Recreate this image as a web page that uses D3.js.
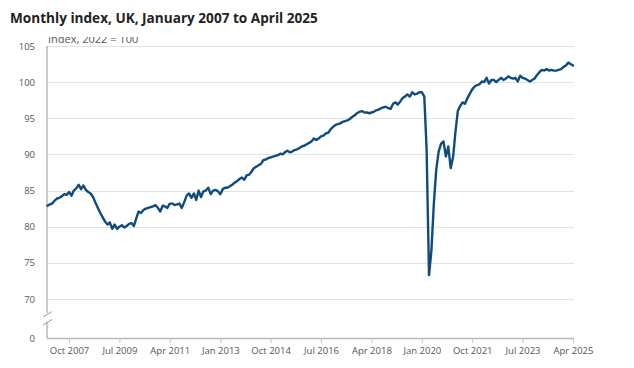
<!DOCTYPE html>
<html>
<head>
<meta charset="utf-8">
<script src="https://cdn.jsdelivr.net/npm/d3@7"></script>
<style>
  html, body { margin: 0; padding: 0; background: #fff; }
  svg text { font-family: "Open Sans", "Noto Sans", sans-serif; }
</style>
</head>
<body>
<svg id="chart" width="634" height="368"></svg>
<script>
// Monthly index, 2022 = 100, Jan 2007 .. Apr 2025
const startMonth = "2007-01";
const endMonth = "2025-04";
const indexValues = [
  82.9, 83.1, 83.2, 83.6, 83.9, 84.0, 84.2, 84.5, 84.4, 84.8, 84.3, 85.0,   // 2007
  85.3, 85.8, 85.2, 85.7, 85.1, 84.8, 84.6, 84.1, 83.3, 82.6, 81.9, 81.3,   // 2008
  80.7, 80.3, 80.6, 79.7, 80.3, 79.7, 80.0, 80.2, 79.9, 80.1, 80.4, 80.5,   // 2009
  80.1, 81.2, 82.1, 81.9, 82.3, 82.5, 82.6, 82.7, 82.8, 83.0, 82.6, 82.1,   // 2010
  82.9, 82.8, 82.6, 83.2, 83.2, 83.0, 83.1, 83.2, 82.6, 83.4, 84.3, 84.6,   // 2011
  84.0, 84.6, 83.7, 85.0, 84.1, 84.9, 85.0, 85.4, 84.5, 85.0, 85.1, 84.9,   // 2012
  84.5, 85.2, 85.4, 85.4, 85.6, 85.8, 86.1, 86.3, 86.6, 86.8, 86.5, 87.1,   // 2013
  87.2, 87.6, 88.1, 88.3, 88.5, 88.7, 89.2, 89.3, 89.5, 89.6, 89.7, 89.8,   // 2014
  89.9, 90.1, 90.0, 90.3, 90.5, 90.3, 90.4, 90.6, 90.7, 90.9, 91.1, 91.2,   // 2015
  91.4, 91.6, 91.8, 92.2, 92.0, 92.2, 92.5, 92.6, 92.9, 93.0, 93.5, 93.8,   // 2016
  94.1, 94.2, 94.3, 94.5, 94.6, 94.7, 94.9, 95.2, 95.4, 95.7, 95.9, 96.0,   // 2017
  95.8, 95.8, 95.7, 95.8, 95.9, 96.1, 96.2, 96.4, 96.5, 96.6, 96.4, 96.3,   // 2018
  97.0, 97.2, 96.9, 97.3, 97.8, 98.0, 98.3, 98.0, 98.6, 98.3, 98.4, 98.6,   // 2019
  98.6, 98.0, 90.8, 73.3, 76.7, 83.2, 87.8, 90.4, 91.5, 91.8, 89.7, 91.1,   // 2020
  88.1, 89.7, 93.0, 96.0, 96.7, 97.2, 97.0, 97.8, 98.4, 99.0, 99.4, 99.6,   // 2021
  99.7, 100.1, 100.0, 100.6, 99.8, 100.3, 100.3, 100.0, 100.3, 100.6, 100.3, 100.5, // 2022
  100.8, 100.6, 100.5, 100.6, 100.1, 100.9, 100.6, 100.5, 100.3, 100.1, 100.3, 100.5, // 2023
  101.0, 101.4, 101.7, 101.6, 101.8, 101.6, 101.7, 101.6, 101.6, 101.7, 101.8, 102.1, // 2024
  102.3, 102.7, 102.5, 102.3                                                // 2025
];

const xTickLabels = ["Oct 2007", "Jul 2009", "Apr 2011", "Jan 2013", "Oct 2014",
                     "Jul 2016", "Apr 2018", "Jan 2020", "Oct 2021", "Jul 2023", "Apr 2025"];
const yTickValues = [0, 70, 75, 80, 85, 90, 95, 100, 105];
const yGridValues = [70, 75, 80, 85, 90, 95, 100, 105];

const titleText = "Monthly index, UK, January 2007 to April 2025";
const unitText = "Index, 2022 = 100";

// layout
const plotLeft = 47, plotRight = 573, plotTop = 46, plotBottom = 338;
const lineColour = "#0f4b7d";
const axisColour = "#b8b8b8";

const parseMonth = d3.timeParse("%Y-%m");
const parseTick = d3.timeParse("%b %Y");
const months = d3.timeMonth.range(parseMonth(startMonth), d3.timeMonth.offset(parseMonth(endMonth), 1));
const series = months.map((m, i) => ({ date: m, value: indexValues[i] }));

const x = d3.scaleTime()
  .domain([parseMonth(startMonth), parseMonth(endMonth)])
  .range([plotLeft + 0.5, plotRight]);

// broken axis: 0..70 squeezed into the bottom strip
const y = d3.scaleLinear()
  .domain([0, 70, 105])
  .range([plotBottom, 299, plotTop]);

const svg = d3.select("#chart");

// title
svg.append("text")
  .attr("x", 10)
  .attr("y", 23)
  .attr("font-size", 13.6)
  .attr("font-weight", 700)
  .attr("fill", "#222")
  .text(titleText);

// gridlines
svg.append("g")
  .selectAll("line")
  .data(yGridValues)
  .join("line")
  .attr("x1", plotLeft)
  .attr("x2", plotRight + 1)
  .attr("y1", d => Math.round(y(d)) + 0.5)
  .attr("y2", d => Math.round(y(d)) + 0.5)
  .attr("stroke", "#e2e2e2")
  .attr("stroke-width", 1);

// unit label, top cut off like the original
svg.append("clipPath").attr("id", "unitClip")
  .append("rect").attr("x", 0).attr("y", 37).attr("width", 300).attr("height", 20);
svg.append("text")
  .attr("clip-path", "url(#unitClip)")
  .attr("x", 48)
  .attr("y", 43)
  .attr("font-size", 11)
  .attr("fill", "#555")
  .text(unitText);

// y axis
const yAxis = svg.append("g")
  .attr("transform", `translate(${plotLeft},0)`)
  .call(d3.axisLeft(y).tickValues(yTickValues).tickSize(0).tickPadding(12));
yAxis.select(".domain").remove();
yAxis.selectAll("text")
  .attr("font-size", 9.5)
  .attr("fill", "#555")
  .attr("font-family", "'Open Sans', sans-serif");

// y axis line with a break between 0 and 70
svg.append("line")
  .attr("x1", plotLeft).attr("x2", plotLeft)
  .attr("y1", plotTop).attr("y2", 313)
  .attr("stroke", axisColour).attr("stroke-width", 1.5);
svg.append("line")
  .attr("x1", plotLeft).attr("x2", plotLeft)
  .attr("y1", 322).attr("y2", plotBottom)
  .attr("stroke", axisColour).attr("stroke-width", 1.5);
[[317, 311.5], [325, 319.5]].forEach(([y1, y2]) => {
  svg.append("line")
    .attr("x1", 43).attr("y1", y1)
    .attr("x2", 52).attr("y2", y2)
    .attr("stroke", "#999").attr("stroke-width", 1);
});

// x axis
const xAxis = svg.append("g")
  .attr("transform", `translate(0,${plotBottom})`)
  .call(d3.axisBottom(x)
    .tickValues(xTickLabels.map(parseTick))
    .tickFormat(d3.timeFormat("%b %Y"))
    .tickSize(5)
    .tickSizeOuter(0)
    .tickPadding(4));
xAxis.select(".domain")
  .attr("stroke", axisColour)
  .attr("stroke-width", 1.5)
  .attr("d", `M${plotLeft},0.5H${plotRight + 1}`);
xAxis.selectAll(".tick line").attr("stroke", "#c4c4c4");
xAxis.selectAll("text")
  .attr("font-size", 9.5)
  .attr("fill", "#555")
  .attr("font-family", "'Open Sans', sans-serif");

// the series
const line = d3.line()
  .x(d => x(d.date))
  .y(d => y(d.value));

svg.append("path")
  .datum(series)
  .attr("fill", "none")
  .attr("stroke", lineColour)
  .attr("stroke-width", 2.4)
  .attr("stroke-linejoin", "round")
  .attr("stroke-linecap", "round")
  .attr("d", line);
</script>
</body>
</html>
